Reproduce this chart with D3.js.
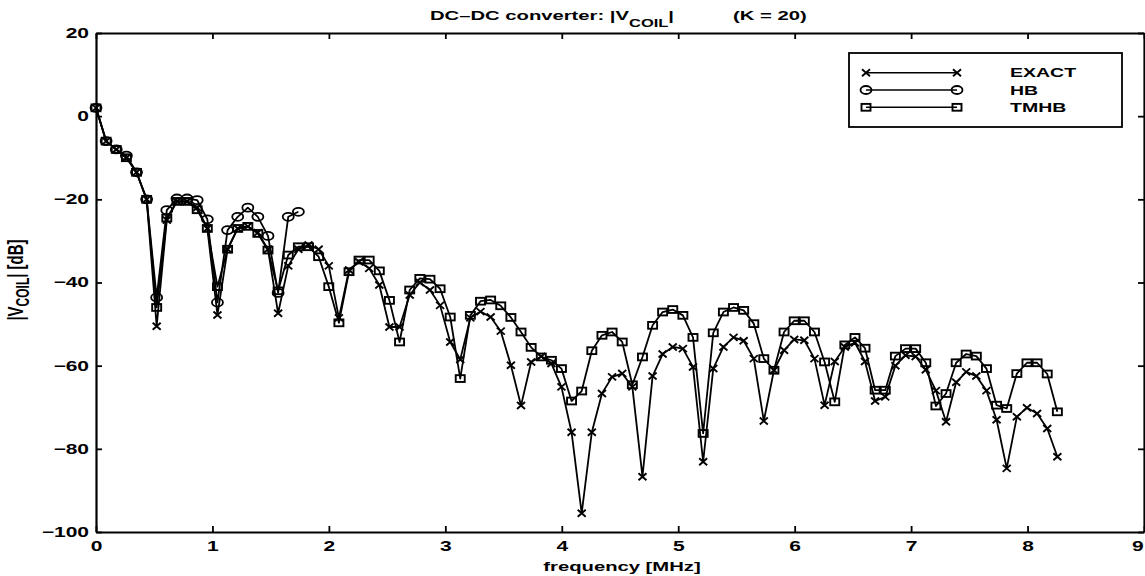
<!DOCTYPE html>
<html><head><meta charset="utf-8">
<script src="https://cdn.jsdelivr.net/npm/d3@7"></script>
<style>
html,body{margin:0;padding:0;background:#fff;}
svg{display:block;}
text{font-family:"Liberation Sans",Arial,Helvetica,sans-serif;font-weight:bold;fill:#000;}
</style></head><body>
<svg id="chart" width="1145" height="576"></svg>
<script>
// ---- data (frequency in MHz, magnitude in dB) ----
const freq = [0,0.087,0.174,0.261,0.348,0.435,0.521,0.608,0.695,0.782,
  0.869,0.956,1.043,1.130,1.217,1.304,1.390,1.477,1.564,1.651,
  1.738,1.825,1.912,1.999,2.086,2.173,2.259,2.346,2.433,2.520,
  2.607,2.694,2.781,2.868,2.955,3.042,3.128,3.215,3.302,3.389,
  3.476,3.563,3.650,3.737,3.824,3.911,3.997,4.084,4.171,4.258,
  4.345,4.432,4.519,4.606,4.693,4.780,4.866,4.953,5.040,5.127,
  5.214,5.301,5.388,5.475,5.562,5.649,5.735,5.822,5.909,5.996,
  6.083,6.170,6.257,6.344,6.431,6.518,6.604,6.691,6.778,6.865,
  6.952,7.039,7.126,7.213,7.300,7.387,7.473,7.560,7.647,7.734,
  7.821,7.908,7.995,8.082,8.169,8.256];
const exact = [2,-6,-8,-10,-13.5,-20,-50.5,-25,-20.5,-20.5,
  -22,-27,-47.8,-32,-27,-26.5,-28,-32,-47.4,-36,
  -32,-31,-32,-36,-48.5,-37,-35,-36.6,-40.6,-50.7,
  -50.7,-43,-40,-41.8,-45.5,-54.3,-58.5,-48.5,-47,-48.3,
  -51.7,-59.9,-69.6,-59.1,-57.8,-59.5,-65.1,-76,-95.5,-76,
  -66.7,-62.7,-61.9,-65.1,-86.7,-62.5,-57.2,-55.5,-55.9,-60.3,
  -83.1,-60.7,-55.5,-53.2,-54,-58.3,-73.3,-61.1,-56.3,-53.7,
  -53.9,-58.3,-69.5,-59,-55.5,-54.5,-59,-68.5,-67.5,-60,
  -57.5,-57.8,-61,-66,-73.5,-64,-61.5,-62.5,-66,-73,
  -84.7,-72.3,-70.1,-71.5,-75.1,-81.9];
const tmhb = [2,-6,-8,-10,-13.5,-20,-46,-24.5,-20.5,-20.5,
  -22.5,-27,-41,-32,-27,-26.5,-28.2,-32.2,-42,-33.4,
  -31.4,-31.4,-33.8,-41,-49.7,-37.4,-34.6,-34.6,-37.2,-44.3,
  -54.3,-41.8,-39,-39.2,-41.5,-48.3,-63.1,-47.9,-44.5,-44.2,
  -45.6,-48.4,-51.9,-55.6,-57.9,-58.7,-60.7,-68.5,-66.1,-56.4,
  -52.7,-51.9,-54.3,-64.6,-57.9,-50.3,-47.1,-46.5,-47.9,-53.2,
  -76.3,-52.1,-47.1,-46,-46.7,-49.9,-58.3,-61.1,-51.9,-49.2,
  -49.2,-51.9,-59.1,-68.7,-55,-53.2,-55.8,-65.9,-65.9,-57.7,
  -55.9,-55.9,-59.3,-69.7,-66.7,-59.3,-57.2,-57.7,-60.7,-69.5,
  -70.3,-61.9,-59.3,-59.3,-62,-71.1];
const hb = [2,-6,-8,-9.5,-13.5,-20,-43.6,-22.6,-19.8,-19.8,
  -20.2,-24.8,-44.8,-27.4,-24.2,-22,-24.2,-28.8,-42.5,-24.2,-23];
const xTicks = [0,1,2,3,4,5,6,7,8,9];
const yTicks = [-100,-80,-60,-40,-20,0,20];
const legendLabels = ["EXACT","HB","TMHB"];

// ---- layout ----
const SX = 1.5; // horizontal stretch of the scanned lettering
const svg = d3.select("#chart");
svg.append("rect").attr("width",1145).attr("height",576).attr("fill","#fff");
const x = d3.scaleLinear().domain([0,9]).range([96,1144]);
const y = d3.scaleLinear().domain([-100,20]).range([532,33]);

function styleAxis(g, stretch){
  g.attr("font-size",14);
  g.select(".domain").attr("stroke","#000").attr("stroke-width",2.2);
  g.selectAll(".tick line").attr("stroke","#000").attr("stroke-width",1.8);
  if (stretch) g.selectAll(".tick text").each(function(){
    const t = d3.select(this);
    const tx = +(t.attr("x")||0);
    t.attr("x", tx/SX).attr("transform",`scale(${SX},1)`);
  });
}
const gB = svg.append("g").attr("transform","translate(0,532)")
  .call(d3.axisBottom(x).tickValues(xTicks).tickSizeInner(-6).tickSizeOuter(0).tickPadding(9).tickFormat(d3.format("d")));
styleAxis(gB,true);
// last label sits at the window edge: pull it in so it stays readable
gB.selectAll(".tick text").filter(d=>d===9).attr("x",-4.5);
const gL = svg.append("g").attr("transform","translate(96,0)")
  .call(d3.axisLeft(y).tickValues(yTicks).tickSizeInner(-6).tickSizeOuter(0).tickPadding(7).tickFormat(d3.format("d")));
styleAxis(gL,true);
const gT = svg.append("g").attr("transform","translate(0,33)")
  .call(d3.axisTop(x).tickValues(xTicks).tickSizeInner(-6).tickSizeOuter(0).tickFormat(""));
styleAxis(gT,false);
const gR = svg.append("g").attr("transform","translate(1144,0)")
  .call(d3.axisRight(y).tickValues(yTicks).tickSizeInner(-6).tickSizeOuter(0).tickFormat(""));
styleAxis(gR,false);

// ---- markers ----
function marker(g, type, cx, cy){
  if (type==="x") {
    g.append("path").attr("d",`M${cx-4},${cy-3.5}L${cx+4},${cy+3.5}M${cx-4},${cy+3.5}L${cx+4},${cy-3.5}`)
      .attr("stroke","#000").attr("stroke-width",1.9).attr("fill","none");
  } else if (type==="o") {
    g.append("ellipse").attr("cx",cx).attr("cy",cy).attr("rx",5.5).attr("ry",4)
      .attr("stroke","#000").attr("stroke-width",1.8).attr("fill","none");
  } else {
    g.append("rect").attr("x",cx-4.5).attr("y",cy-3.4).attr("width",9).attr("height",6.8)
      .attr("stroke","#000").attr("stroke-width",1.9).attr("fill","none");
  }
}
const line = d3.line().x(d=>x(d[0])).y(d=>y(d[1]));
const series = [
  {vals: exact, type:"x"},
  {vals: hb, type:"o"},
  {vals: tmhb, type:"s"}
];
const plot = svg.append("g");
series.forEach(s=>{
  const pts = s.vals.map((v,i)=>[freq[i], v]);
  plot.append("path").datum(pts).attr("d",line).attr("fill","none")
    .attr("stroke","#000").attr("stroke-width",1.8).attr("stroke-linejoin","round");
  const mg = plot.append("g");
  pts.forEach(p=>marker(mg, s.type, x(p[0]), y(p[1])));
});

// ---- legend ----
const lg = svg.append("g");
lg.append("rect").attr("x",849).attr("y",53).attr("width",273).attr("height",74)
  .attr("fill","#fff").attr("stroke","#000").attr("stroke-width",1.8);
const rows = [72.7, 90, 107.3];
legendLabels.forEach((lab,i)=>{
  const yy = rows[i];
  lg.append("line").attr("x1",866).attr("x2",957).attr("y1",yy).attr("y2",yy)
    .attr("stroke","#000").attr("stroke-width",1.4);
  marker(lg, series[i].type, 866, yy);
  marker(lg, series[i].type, 957, yy);
  lg.append("text").attr("transform",`translate(1010,${yy+4.6}) scale(${SX},1)`)
    .attr("font-size",13).text(lab);
});

// ---- titles ----
const t1 = svg.append("text").attr("transform",`translate(430,20) scale(${SX},1)`).attr("font-size",13.5);
t1.append("tspan").text("DC–DC converter: |V");
t1.append("tspan").attr("font-size",11).attr("dy",7).text("COIL");
t1.append("tspan").attr("dy",-7).text("|");
svg.append("text").attr("transform",`translate(733,20) scale(${SX},1)`).attr("font-size",13.5).text("(K = 20)");

svg.append("text").attr("transform",`translate(622,571) scale(${SX},1)`).attr("font-size",13.5)
  .attr("text-anchor","middle").text("frequency [MHz]");

const yl = svg.append("text").attr("transform",`translate(23,280) rotate(-90) scale(1,${SX})`)
  .attr("font-size",15).attr("text-anchor","middle");
yl.append("tspan").text("|V");
yl.append("tspan").attr("font-size",12).attr("dy",4).text("COIL");
yl.append("tspan").attr("dy",-4).text("| [dB]");
</script>
</body></html>
